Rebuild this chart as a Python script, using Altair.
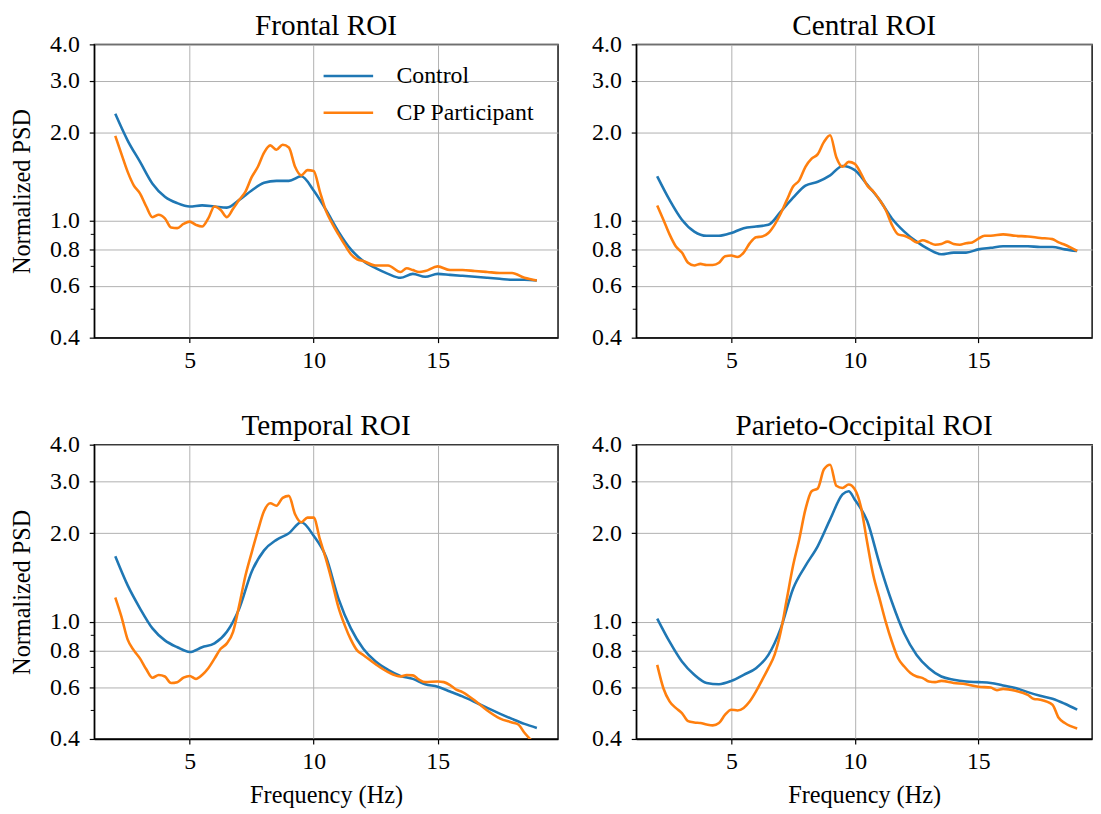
import altair as alt
import pandas as pd

ROIS = ["Frontal ROI", "Central ROI", "Temporal ROI", "Parieto-Occipital ROI"]
GROUPS = ["Control", "CP Participant"]
COLORS = ["#1f77b4", "#ff7f0e"]
Y_TICKS = [0.4, 0.6, 0.8, 1.0, 2.0, 3.0, 4.0]
Y_MINOR = [0.5, 0.7, 0.9]
X_TICKS = [5, 10, 15]

HALF = [2.0, 2.5, 3.0, 3.5, 4.0, 4.5, 5.0, 5.5, 6.0, 6.5, 7.0, 7.5, 8.0, 8.5, 9.0, 9.5,
        10.0, 10.5, 11.0, 11.5, 12.0, 12.5, 13.0, 13.5, 14.0, 14.5, 15.0, 15.5, 16.0,
        16.5, 17.0, 17.5, 18.0, 18.5, 19.0]
QUARTER_LOW = [2.0, 2.25, 2.5, 2.75, 3.0, 3.25, 3.5, 3.75, 4.0, 4.25, 4.5, 4.75, 5.0,
               5.25, 5.5, 5.75, 6.0, 6.25, 6.5, 6.75, 7.0, 7.25, 7.5, 7.75, 8.0, 8.25,
               8.5, 8.75, 9.0, 9.25, 9.5, 9.75, 10.0, 10.25, 10.5]

# ---- Frontal ----
FRONTAL_CTRL_F = HALF
FRONTAL_CTRL = [2.32, 1.88, 1.59, 1.34, 1.21, 1.15, 1.12, 1.13, 1.12, 1.11, 1.18, 1.27,
                1.35, 1.37, 1.37, 1.42, 1.27, 1.09, 0.92, 0.80, 0.73, 0.69, 0.66, 0.64,
                0.66, 0.645, 0.66, 0.655, 0.65, 0.645, 0.64, 0.635, 0.63, 0.63, 0.627]
FRONTAL_CP_F = QUARTER_LOW + [10.75, 11.0, 11.25, 11.5, 11.75, 12.0, 12.5, 13.0, 13.5,
                              13.75, 14.0, 14.25, 14.5, 15.0, 15.5, 16.0, 16.5, 17.0,
                              17.5, 18.0, 18.5, 19.0]
FRONTAL_CP = [1.95, 1.69, 1.47, 1.32, 1.24, 1.12, 1.03, 1.05, 1.02, 0.95, 0.945, 0.977,
              0.995, 0.97, 0.957, 1.02, 1.12, 1.09, 1.03, 1.10, 1.18, 1.26, 1.41, 1.53,
              1.71, 1.81, 1.75, 1.82, 1.78, 1.53, 1.43, 1.49, 1.48, 1.26, 1.08,
              0.98, 0.90, 0.83, 0.77, 0.74, 0.73, 0.705, 0.705, 0.67, 0.69, 0.68, 0.67,
              0.675, 0.70, 0.68, 0.68, 0.675, 0.67, 0.665, 0.665, 0.64, 0.627]

# ---- Central ----
CENTRAL_CTRL_F = HALF
CENTRAL_CTRL = [1.42, 1.18, 1.01, 0.92, 0.89, 0.89, 0.91, 0.945, 0.957, 0.97, 1.075, 1.20,
                1.32, 1.36, 1.43, 1.54, 1.49, 1.33, 1.18, 1.02, 0.92, 0.85, 0.80, 0.77,
                0.78, 0.78, 0.80, 0.81, 0.82, 0.82, 0.82, 0.815, 0.815, 0.80, 0.79]
CENTRAL_CP_F = QUARTER_LOW + [10.75, 11.0, 11.25, 11.5, 11.75, 12.0, 12.25, 12.5, 12.75,
                              13.0, 13.25, 13.5, 13.75, 14.0, 14.25, 14.5, 14.75, 15.0,
                              15.25, 15.5, 16.0, 16.5, 17.0, 17.5, 18.0, 18.25, 18.5, 19.0]
CENTRAL_CP = [1.13, 1.01, 0.90, 0.82, 0.78, 0.72, 0.705, 0.714, 0.708, 0.708, 0.72, 0.758,
              0.762, 0.754, 0.78, 0.84, 0.88, 0.885, 0.91, 0.97, 1.06, 1.18, 1.31, 1.375,
              1.53, 1.63, 1.69, 1.86, 1.96, 1.65, 1.53, 1.59, 1.566, 1.45, 1.32,
              1.26, 1.18, 1.09, 0.97, 0.90, 0.89, 0.87, 0.845, 0.86, 0.845, 0.83, 0.835,
              0.85, 0.835, 0.83, 0.84, 0.845, 0.87, 0.89, 0.89, 0.90, 0.89, 0.885, 0.875,
              0.867, 0.845, 0.83, 0.79]

# ---- Temporal ----
TEMPORAL_CTRL_F = HALF
TEMPORAL_CTRL = [1.67, 1.33, 1.11, 0.95, 0.865, 0.82, 0.79, 0.82, 0.845, 0.925, 1.11, 1.48,
                 1.75, 1.90, 2.0, 2.18, 1.96, 1.66, 1.20, 0.95, 0.81, 0.733, 0.687, 0.655,
                 0.64, 0.614, 0.602, 0.58, 0.558, 0.534, 0.51, 0.488, 0.468, 0.45, 0.436]
TEMPORAL_CP_F = QUARTER_LOW + [10.75, 11.0, 11.25, 11.5, 11.75, 12.0, 12.5, 13.0, 13.5,
                               13.75, 14.0, 14.25, 14.5, 15.0, 15.25, 15.5, 15.75, 16.0,
                               16.5, 17.0, 17.5, 18.0, 18.25, 18.5, 18.75, 19.0]
TEMPORAL_CP = [1.21, 1.04, 0.87, 0.80, 0.75, 0.69, 0.646, 0.66, 0.652, 0.62, 0.624, 0.646,
               0.655, 0.64, 0.66, 0.696, 0.75, 0.81, 0.845, 0.925, 1.14, 1.437, 1.72, 2.04,
               2.38, 2.53, 2.48, 2.64, 2.68, 2.32, 2.18, 2.26, 2.26, 1.91, 1.63,
               1.36, 1.12, 0.975, 0.87, 0.80, 0.772, 0.718, 0.675, 0.652, 0.66, 0.658,
               0.636, 0.624, 0.627, 0.624, 0.61, 0.588, 0.577, 0.54, 0.50, 0.47, 0.455,
               0.448, 0.42, 0.398, 0.38]

# ---- Parieto-Occipital ----
PO_CTRL_F = [2.0, 2.5, 3.0, 3.5, 4.0, 4.5, 5.0, 5.5, 6.0, 6.5, 7.0, 7.5, 8.0, 8.5, 9.0,
             9.5, 9.75, 10.0, 10.5, 11.0, 11.5, 12.0, 12.5, 13.0, 13.5, 14.0, 14.5, 15.0,
             15.5, 16.0, 16.5, 17.0, 17.5, 18.0, 18.5, 19.0]
PO_CTRL = [1.026, 0.856, 0.733, 0.661, 0.62, 0.614, 0.63, 0.661, 0.696, 0.772, 0.95, 1.296,
           1.55, 1.81, 2.23, 2.71, 2.78, 2.6, 2.2, 1.575, 1.168, 0.913, 0.772, 0.696, 0.652,
           0.636, 0.627, 0.624, 0.62, 0.608, 0.596, 0.577, 0.561, 0.548, 0.527, 0.503]
PO_CP_F = QUARTER_LOW + [10.75, 11.0, 11.25, 11.5, 11.75, 12.0, 12.25, 12.5, 12.75, 13.0,
                         13.25, 13.5, 14.0, 14.5, 15.0, 15.5, 15.75, 16.0, 16.5, 17.0,
                         17.25, 17.5, 18.0, 18.25, 18.5, 19.0]
PO_CP = [0.714, 0.595, 0.537, 0.51, 0.49, 0.46, 0.455, 0.453, 0.448, 0.445, 0.453, 0.484,
         0.503, 0.50, 0.51, 0.537, 0.58, 0.635, 0.696, 0.772, 0.925, 1.2, 1.553, 1.91,
         2.41, 2.78, 2.84, 3.3, 3.42, 2.9, 2.85, 2.93, 2.82, 2.45, 1.86,
         1.437, 1.2, 1.0, 0.856, 0.752, 0.705, 0.67, 0.652, 0.644, 0.627, 0.624, 0.63,
         0.62, 0.614, 0.602, 0.598, 0.586, 0.592, 0.583, 0.565, 0.547, 0.544, 0.523,
         0.472, 0.453, 0.434]

SERIES = {
    "Frontal ROI": [(FRONTAL_CTRL_F, FRONTAL_CTRL), (FRONTAL_CP_F, FRONTAL_CP)],
    "Central ROI": [(CENTRAL_CTRL_F, CENTRAL_CTRL), (CENTRAL_CP_F, CENTRAL_CP)],
    "Temporal ROI": [(TEMPORAL_CTRL_F, TEMPORAL_CTRL), (TEMPORAL_CP_F, TEMPORAL_CP)],
    "Parieto-Occipital ROI": [(PO_CTRL_F, PO_CTRL), (PO_CP_F, PO_CP)],
}

FONT = "Liberation Serif"


def make_df(roi):
    rows = []
    for group, (freqs, vals) in zip(GROUPS, SERIES[roi]):
        for f, v in zip(freqs, vals):
            rows.append({"freq": f, "psd": v, "group": group})
    return pd.DataFrame(rows)


def panel(roi, left, bottom, legend, width, xmax, height):
    yscale = alt.Scale(type="log", domain=[0.4, 4.0], nice=False)
    xaxis_kwargs = dict(values=X_TICKS, format="d", grid=True, titlePadding=10)
    xaxis_kwargs["title"] = "Frequency (Hz)" if bottom else None
    yaxis_kwargs = dict(values=Y_TICKS, format=".1f", grid=True, titlePadding=15)
    yaxis_kwargs["title"] = "Normalized PSD" if left else None

    if legend:
        leg = alt.Legend(title=None, orient="none", legendX=242.5, legendY=18,
                         symbolType="M-2,0H2", symbolSize=625, symbolStrokeWidth=2.6,
                         labelFont=FONT, labelFontSize=24, labelColor="black",
                         labelOffset=34.5, rowPadding=11, padding=0)
    else:
        leg = None

    line = alt.Chart(make_df(roi)).mark_line(
        clip=True, strokeWidth=2.6, interpolate="monotone"
    ).encode(
        x=alt.X("freq:Q", scale=alt.Scale(domain=[1.15, xmax], nice=False, zero=False),
                axis=alt.Axis(**xaxis_kwargs)),
        y=alt.Y("psd:Q", scale=yscale, axis=alt.Axis(**yaxis_kwargs)),
        color=alt.Color("group:N", scale=alt.Scale(domain=GROUPS, range=COLORS),
                        legend=leg),
    )
    minor = alt.Chart(pd.DataFrame({"psd": Y_MINOR})).mark_rule(
        color="black", strokeWidth=1
    ).encode(
        y=alt.Y("psd:Q", scale=yscale, axis=alt.Axis(**yaxis_kwargs)),
        x=alt.value(0),
        x2=alt.value(-3.5),
    )
    return alt.layer(line, minor).properties(
        width=width, height=height, title=roi
    )


top = alt.hconcat(
    panel("Frontal ROI", True, False, True, 468, 19.85, 296),
    panel("Central ROI", False, False, False, 460, 19.6, 296),
    spacing=32,
).resolve_scale(color="independent")
bottom = alt.hconcat(
    panel("Temporal ROI", True, True, False, 468, 19.85, 297),
    panel("Parieto-Occipital ROI", False, True, False, 460, 19.6, 297),
    spacing=32,
).resolve_scale(color="independent")

chart = alt.vconcat(top, bottom, spacing=37).resolve_scale(
    color="independent"
).configure_view(
    stroke="black", strokeWidth=1.4
).configure_axis(
    domainColor="black", domainWidth=1.4, tickColor="black", tickSize=5, tickWidth=1.2,
    labelFont=FONT, labelFontSize=24, labelColor="black",
    titleFont=FONT, titleFontSize=24.5, titleFontWeight="normal", titleColor="black",
    gridColor="#b0b0b0", gridWidth=1,
).configure_axisX(
    labelPadding=6
).configure_axisY(
    labelPadding=10
).configure_title(
    font=FONT, fontSize=29.5, fontWeight="normal", color="black", anchor="middle",
    offset=-9, frame="group"
).properties(
    background="white",
    padding={"left": 1, "top": -2, "right": 0, "bottom": 0},
)

chart.save("out.html", embed_options={"renderer": "svg", "actions": False})
